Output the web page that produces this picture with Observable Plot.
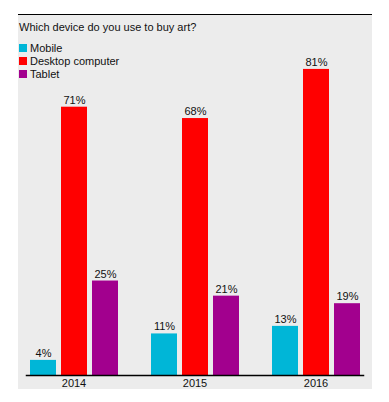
<!DOCTYPE html>
<html>
<head>
<meta charset="utf-8">
<script src="https://cdn.jsdelivr.net/npm/d3@7"></script>
<script src="https://cdn.jsdelivr.net/npm/@observablehq/plot@0.6"></script>
<style>
  html, body { margin: 0; padding: 0; background: #fff; }
  body { font-family: "Liberation Sans", Arial, Helvetica, sans-serif; }
  #wrap { position: relative; width: 389px; height: 402px; overflow: hidden; }
  #panel { position: absolute; left: 18px; top: 14px; width: 354px; height: 375px; background: #ececec; border-top: 1px solid #000; box-sizing: border-box; }
  #title { position: absolute; left: 19px; top: 21px; font-size: 11px; color: #111; white-space: nowrap; }
  #legend { position: absolute; left: 19px; top: 42px; font-size: 11px; color: #111; }
  #legend .item { display: flex; align-items: center; height: 12.7px; white-space: nowrap; }
  #legend .sw { width: 8px; height: 8px; margin-right: 3px; display: inline-block; }
  #chart { position: absolute; left: 0; top: 0; }
</style>
</head>
<body>
<div id="wrap">
  <div id="panel"></div>
  <div id="chart"></div>
  <div id="title">Which device do you use to buy art?</div>
  <div id="legend"></div>
</div>
<script>
const years = ["2014", "2015", "2016"];
const devices = ["Mobile", "Desktop computer", "Tablet"];
const colors = ["#00b6d7", "#ff0000", "#a2008e"];
const mobile = [4, 11, 13];
const desktop = [71, 68, 81];
const tablet = [25, 21, 19];
const title = "Which device do you use to buy art?";

const series = [mobile, desktop, tablet];
const data = [];
years.forEach((y, i) => devices.forEach((d, j) => data.push({year: y, device: d, value: series[j][i]})));

document.getElementById("title").textContent = title;
const legend = document.getElementById("legend");
devices.forEach((d, j) => {
  const it = document.createElement("div");
  it.className = "item";
  const sw = document.createElement("span");
  sw.className = "sw";
  sw.style.background = colors[j];
  it.appendChild(sw);
  it.appendChild(document.createTextNode(d));
  legend.appendChild(it);
});

const chart = Plot.plot({
  width: 389,
  height: 402,
  marginTop: 30,
  marginBottom: 27,
  marginLeft: 18,
  marginRight: 17,
  style: { background: "transparent", fontFamily: "Liberation Sans, Arial, Helvetica, sans-serif", fontSize: "11px", color: "#111" },
  fx: { domain: years, paddingInner: 0.2131, paddingOuter: 0.0574, label: null },
  x: { domain: devices, paddingInner: 0.17, paddingOuter: 0.085, axis: null },
  y: { domain: [0, 91.3], axis: null },
  color: { domain: devices, range: colors },
  marks: [
    Plot.barY(data, { fx: "year", x: "device", y: "value", fill: "device" }),
    Plot.text(data, { fx: "year", x: "device", y: "value", text: d => d.value + "%", dy: -7, fontSize: 11, fill: "#111" }),
    Plot.frame({ anchor: "bottom", facet: "super", stroke: "#000", strokeWidth: 1.5 }),
    Plot.axisFx({ anchor: "bottom", tickSize: 0, tickPadding: 4, fontSize: 11, label: null })
  ]
});
document.getElementById("chart").appendChild(chart);
</script>
</body>
</html>
